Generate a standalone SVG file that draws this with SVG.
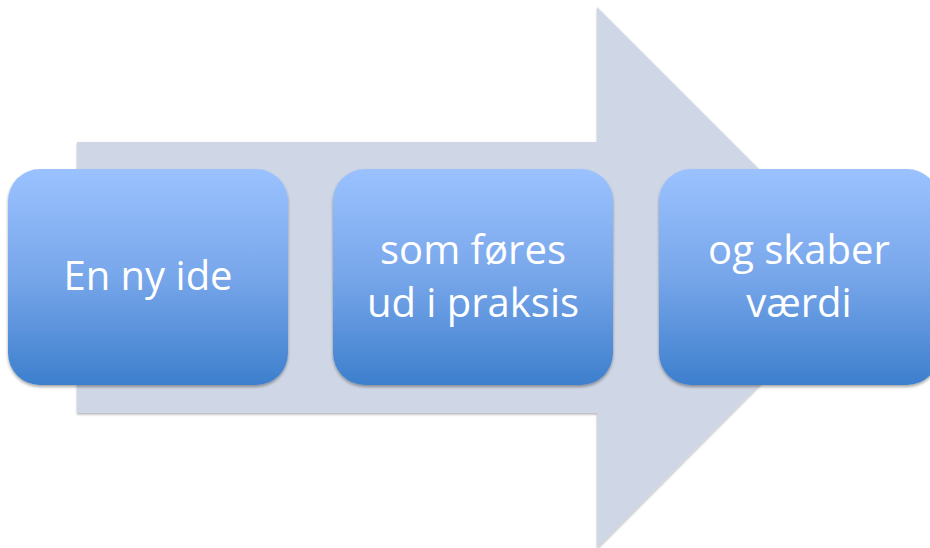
<svg xmlns="http://www.w3.org/2000/svg" width="930" height="548" viewBox="0 0 930 548">
<defs>
<linearGradient id="bg" x1="0" y1="0" x2="0" y2="1">
<stop offset="0" stop-color="#9bc2ff"/>
<stop offset="0.5" stop-color="#77a6ea"/>
<stop offset="1" stop-color="#3d7fcd"/>
</linearGradient>
<filter id="sh" x="-10%" y="-10%" width="120%" height="125%">
<feDropShadow dx="0" dy="2" stdDeviation="1.8" flood-color="#000" flood-opacity="0.35"/>
</filter>
<filter id="ash" x="-5%" y="-5%" width="110%" height="110%">
<feDropShadow dx="0" dy="1.5" stdDeviation="1.2" flood-color="#000" flood-opacity="0.3"/>
</filter>
</defs>
<style>
.box{fill:url(#bg);filter:url(#sh)}
.t{font-family:"Open Sans","Noto Sans",sans-serif;font-size:40px;fill:#ffffff;text-anchor:middle}
</style>
<g id="arrow">
<polygon points="77,142 597,142 597,7 867,277 597,548 597,413 77,413" fill="#cfd7e6" filter="url(#ash)"/>
</g>
<g id="connectors"></g>
<g id="node1">
<rect class="box" x="8" y="169" width="280" height="216" rx="32"/>
<text class="t" x="148" y="290">En ny ide</text>
</g>
<g id="node2">
<rect class="box" x="333" y="169" width="280" height="216" rx="32"/>
<text class="t" x="473" y="264">som føres</text>
<text class="t" x="473" y="317">ud i praksis</text>
</g>
<g id="node3">
<rect class="box" x="659" y="169" width="280" height="216" rx="32"/>
<text class="t" x="799" y="264">og skaber</text>
<text class="t" x="799" y="317">værdi</text>
</g>
</svg>
